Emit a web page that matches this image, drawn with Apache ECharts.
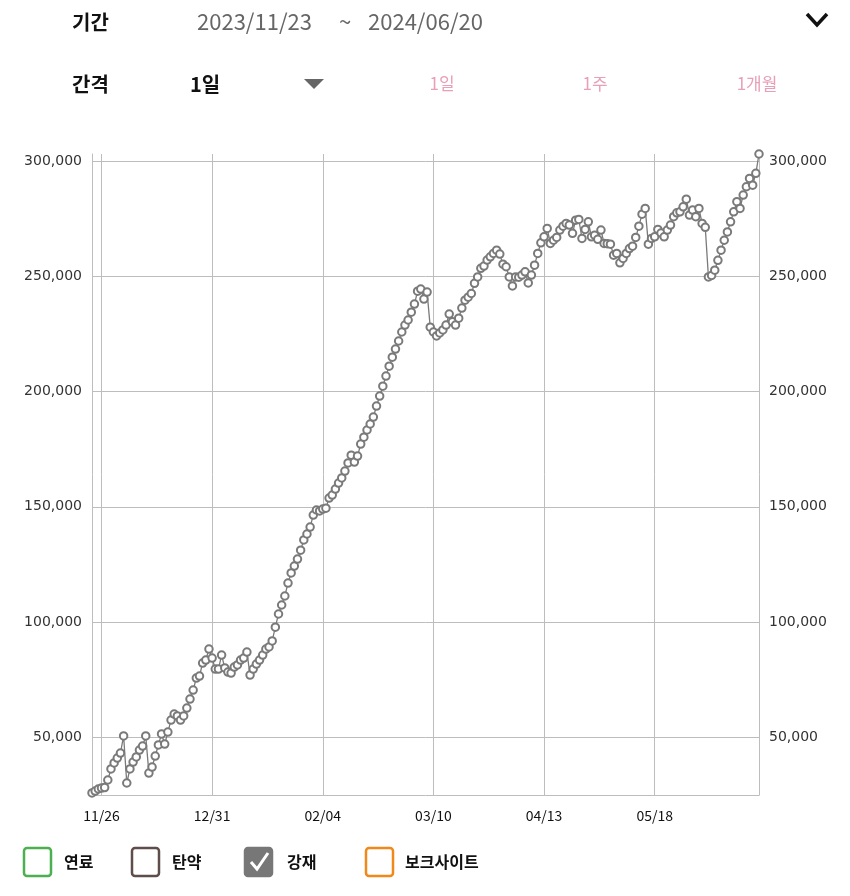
<!DOCTYPE html>
<html><head><meta charset="utf-8">
<script src="https://cdn.jsdelivr.net/npm/echarts@6/dist/echarts.min.js"></script>
<style>html,body{margin:0;padding:0;background:#fff}#c{width:850px;height:896px}</style>
</head><body><div id="c"></div>
<script>
// ---- data ----
const startDate = '2023-11-23';
const repeatedDate = '03/10';
const labelDates = ['11/26', '12/31', '02/04', '03/10', '04/13', '05/18'];
const steelValues = [
25900, 26700, 27600, 28000, 28200, 31500, 36300, 38900, 41000, 43200,
50600, 30200, 36300, 39300, 41500, 44500, 46200, 50600, 34500, 37100,
41900, 46700, 51500, 47100, 52300, 57500, 60100, 59300, 57500, 59300,
62700, 66600, 70500, 75700, 76600, 82200, 83500, 88300, 84400, 79600,
79600, 85700, 80100, 78300, 77900, 80500, 81400, 83500, 84400, 87000,
77000, 79600, 81800, 83500, 85700, 88300, 89200, 91800, 97800, 103500,
107400, 111300, 116900, 121300, 124300, 127300, 131200, 135600, 138200, 141200,
146400, 148600, 148200, 149000, 149400, 153800, 155100, 157700, 160300, 162500,
165500, 169000, 172400, 169400, 172000, 177200, 180200, 183300, 185900, 188900,
193700, 198000, 202300, 206700, 211000, 214900, 218400, 221900, 225800, 228800,
231000, 234400, 237900, 243500, 244400, 240100, 243100, 227900, 225800, 224100,
225400, 226700, 228800, 233600, 230200, 228800, 231800, 236200, 239600, 240900,
242500, 246900, 249700, 253400, 254400, 257000, 258400, 259900, 261300, 259600,
255200, 254100, 249700, 245800, 249700, 249600, 250500, 251900, 247100, 250500,
254800, 259900, 264500, 267100, 270700, 264200, 265600, 266800, 270000, 271700,
272900, 272200, 268600, 274300, 274600, 266400, 270300, 273600, 267100, 267800,
266000, 270000, 264200, 264100, 263900, 259100, 259900, 255800, 257700, 259900,
262000, 263000, 266800, 271700, 276900, 279400, 263900, 266400, 267100, 270300,
268700, 267100, 270000, 272200, 275800, 277500, 277900, 280100, 283400, 276500,
278700, 275800, 279400, 272900, 271200, 249700, 250300, 252600, 256900, 261300,
265600, 269200, 273600, 277900, 282300, 279400, 285200, 288800, 292400, 289500,
294600, 303000
];

// ---- categories (daily dates) ----
function buildDates(start, count) {
  const out = [];
  const d = new Date(start + 'T00:00:00Z');
  while (out.length < count) {
    const s = String(d.getUTCMonth() + 1).padStart(2, '0') + '/' + String(d.getUTCDate()).padStart(2, '0');
    out.push(s);
    if (s === repeatedDate && out.length < count) out.push(s);
    d.setUTCDate(d.getUTCDate() + 1);
  }
  return out;
}
const categories = buildDates(startDate, steelValues.length);
const labelIdx = labelDates.map(l => categories.indexOf(l));
const showAt = (i) => labelIdx.indexOf(i) !== -1;

const FONT = '"Noto Sans CJK KR", "Noto Sans", sans-serif';
const NUMFONT = '"DejaVu Sans", sans-serif';
const GRID = '#bdbdbd';
const yMin = 25000;
const yMax = Math.max.apply(null, steelValues);

function yAxisDef(pos, split) {
  return {
    type: 'value', position: pos, min: yMin, max: yMax,
    axisLine: { show: true, lineStyle: { color: GRID, width: 1 } },
    axisTick: { show: false },
    axisLabel: {
      showMinLabel: false, showMaxLabel: false,
      color: '#333', fontSize: 14, fontFamily: NUMFONT, margin: 10,
      formatter: v => v.toLocaleString('en-US')
    },
    splitLine: { show: split, showMinLine: false, showMaxLine: false, lineStyle: { color: GRID, width: 1 } }
  };
}

function txt(x, y, text, size, color, weight, align, fam) {
  return { type: 'text', x: x, y: y, silent: true,
    style: { text: text, fill: color, fontSize: size, fontWeight: weight || 'normal', fontFamily: fam || FONT,
      textAlign: align || 'left', textVerticalAlign: 'middle' } };
}
function box(x, stroke, fill) {
  return { type: 'rect', silent: true, shape: { x: x, y: 848, width: 27, height: 28, r: 3 },
    style: { fill: fill || '#fff', stroke: stroke, lineWidth: 2.5 } };
}

const chart = echarts.init(document.getElementById('c'), null, { renderer: 'canvas' });
chart.setOption({
  animation: false,
  backgroundColor: '#fff',
  grid: { left: 92, right: 91, top: 154, bottom: 101, containLabel: false, outerBoundsMode: 'none' },
  xAxis: {
    type: 'category', data: categories, boundaryGap: false,
    axisLine: { show: true, lineStyle: { color: GRID, width: 1 } },
    axisTick: { show: false },
    axisLabel: { interval: (i) => showAt(i), color: '#111', fontSize: 14, fontFamily: FONT, margin: 14 },
    splitLine: { show: true, interval: (i) => showAt(i), lineStyle: { color: GRID, width: 1 } }
  },
  yAxis: [yAxisDef('left', true), yAxisDef('right', false)],
  series: [{
    type: 'line', data: steelValues, yAxisIndex: 0,
    symbol: 'emptyCircle', symbolSize: 7.5, showAllSymbol: true,
    lineStyle: { color: '#7a7a7a', width: 1.3 },
    itemStyle: { color: '#7a7a7a', borderColor: '#7a7a7a', borderWidth: 2.5 },
    silent: true
  }],
  graphic: [
    txt(72, 22, '기간', 20, '#111', 'bold'),
    txt(197, 22, '2023/11/23', 22, '#666'),
    txt(345, 22, '~', 22, '#666', 'normal', 'center'),
    txt(368, 22, '2024/06/20', 22, '#666'),
    { type: 'polyline', silent: true, shape: { points: [[807, 14], [817, 25], [827, 14]] },
      style: { stroke: '#111', lineWidth: 3.5, fill: null } },
    txt(72, 84, '간격', 20, '#111', 'bold'),
    txt(190, 84, '1일', 20, '#111', 'bold'),
    { type: 'polygon', silent: true, shape: { points: [[304, 79], [324, 79], [314, 89]] }, style: { fill: '#666' } },
    txt(442, 84, '1일', 17, '#e8a0b8', 'normal', 'center'),
    txt(595, 84, '1주', 17, '#e8a0b8', 'normal', 'center'),
    txt(757, 84, '1개월', 17, '#e8a0b8', 'normal', 'center'),
    box(24, '#4caf50'), txt(64, 862, '연료', 16, '#111', 'bold'),
    box(132, '#5e4d4a'), txt(172, 862, '탄약', 16, '#111', 'bold'),
    box(245, '#777', '#777'),
    { type: 'polyline', silent: true, shape: { points: [[251, 862], [257, 869], [268, 853]] },
      style: { stroke: '#fff', lineWidth: 3, fill: null } },
    txt(287, 862, '강재', 16, '#111', 'bold'),
    box(366, '#f0881a'), txt(405, 862, '보크사이트', 16, '#111', 'bold')
  ]
});
</script></body></html>
